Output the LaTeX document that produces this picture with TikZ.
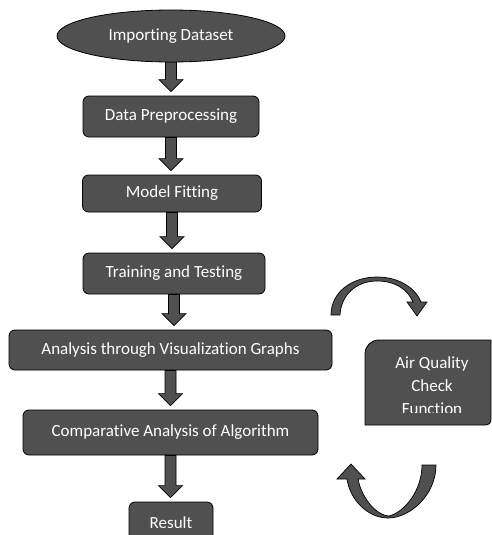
\documentclass[tikz,border=0pt]{standalone}
\usepackage{fontspec}
\setmainfont{Carlito}[Ligatures=NoCommon]
\usetikzlibrary{shapes.geometric}
\definecolor{boxgray}{HTML}{505050}
\newcommand{\flowarrow}[2]{%
  \path (#1.south) coordinate (fa-s);
  \path (#1.south |- #2.north) ++(0,-4) coordinate (fa-t);
  \draw[blockarrow] ([xshift=-5.5pt]fa-s) -- ([xshift=-5.5pt,yshift=12pt]fa-t)
    -- ([xshift=-12pt,yshift=12pt]fa-t) -- (fa-t) -- ([xshift=12pt,yshift=12pt]fa-t)
    -- ([xshift=5.5pt,yshift=12pt]fa-t) -- ([xshift=5.5pt]fa-s) -- cycle;}
\begin{document}
\begin{tikzpicture}[x=1pt,y=-1pt,
  every node/.style={text=white,font=\fontsize{17}{23}\selectfont,inner sep=0pt},
  procbox/.style={draw=black,fill=boxgray,line width=0.8pt,rounded corners=6pt},
  blockarrow/.style={draw=black,fill=boxgray,line width=0.7pt,line join=miter},
  curvearrow/.style={draw=black,fill=boxgray,line width=0.7pt}]
\clip (0,0) rectangle (492,535);
\fill[white] (0,0) rectangle (492,535);
% main flow
\node[ellipse,draw=black,fill=boxgray,line width=0.8pt,minimum width=228pt,minimum height=52pt] (start) at (171,36) {Importing Dataset};
\node[procbox,minimum width=176pt,minimum height=41pt] (prep) at (171,116.5) {Data Preprocessing};
\node[procbox,minimum width=179pt,minimum height=37pt] (fit) at (172,193.5) {Model Fitting};
\node[procbox,minimum width=182pt,minimum height=41pt] (train) at (174,273.5) {Training and Testing};
\node[procbox,minimum width=323pt,minimum height=40pt] (visual) at (170.5,350) {Analysis through Visualization Graphs};
\node[procbox,minimum width=295pt,minimum height=45pt] (compare) at (170.5,432.5) {Comparative Analysis of Algorithm};
\node[procbox,minimum width=84pt,minimum height=42pt] (result) at (171,523) {Result};
\flowarrow{start}{prep}
\flowarrow{prep}{fit}
\flowarrow{fit}{train}
\flowarrow{train}{visual}
\flowarrow{visual}{compare}
\flowarrow{compare}{result}
% side box
\draw[draw=black,fill=boxgray,line width=0.8pt] (365,425) -- (365,354) .. controls (365,346) and (371,340) .. (379,340)
  -- (491,340) -- (491,419) .. controls (491,423) and (489,425) .. (485,425) -- cycle;
\begin{scope}
\clip (365,340) rectangle (491,412);
\node[align=center] (aq) at (432,386) {Air Quality\\Check\\Function};
\end{scope}
% curved arrows
\draw[curvearrow] (331,315) .. controls (331,292) and (352,277) .. (377,277) .. controls (400,277) and (416,289) .. (421,302)
  -- (427,302) -- (417,316) -- (407,302) -- (413,302)
  .. controls (408,290) and (396,281) .. (377,281) .. controls (356,281) and (341,295) .. (340,315) -- cycle;
\draw[curvearrow] (436,465) .. controls (436,495) and (410,518) .. (388,518) .. controls (368,518) and (350,500) .. (347,479)
  -- (337,479) -- (351,464) -- (365,479) -- (358,479)
  .. controls (362,500) and (378,516) .. (389,516) .. controls (405,512) and (422,490) .. (422,465) -- cycle;
\end{tikzpicture}
\end{document}
